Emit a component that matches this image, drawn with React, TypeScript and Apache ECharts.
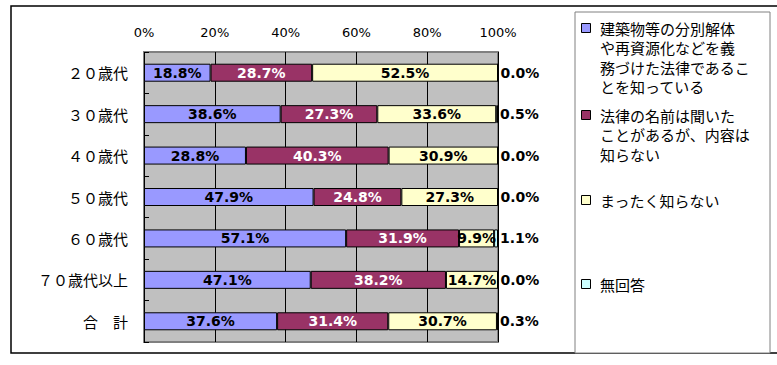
import React, { useEffect, useRef } from "react";
import * as echarts from "echarts";

const categories = ["２０歳代", "３０歳代", "４０歳代", "５０歳代", "６０歳代", "７０歳代以上", "合　計"];
const seriesNames = [
  "建築物等の分別解体や再資源化などを義務づけた法律であることを知っている",
  "法律の名前は聞いたことがあるが、内容は知らない",
  "まったく知らない",
  "無回答",
];
const legendLines = [
  "建築物等の分別解体\nや再資源化などを義\n務づけた法律であるこ\nとを知っている",
  "法律の名前は聞いた\nことがあるが、内容は\n知らない",
  "まったく知らない",
  "無回答",
];
const knowValues = [18.8, 38.6, 28.8, 47.9, 57.1, 47.1, 37.6];
const heardValues = [28.7, 27.3, 40.3, 24.8, 31.9, 38.2, 31.4];
const unknownValues = [52.5, 33.6, 30.9, 27.3, 9.9, 14.7, 30.7];
const noAnswerValues = [0.0, 0.5, 0.0, 0.0, 1.1, 0.0, 0.3];
const xTicks = [0, 20, 40, 60, 80, 100];

const colors = ["#9999FF", "#993366", "#FFFFCC", "#CCFFFF"];
const labelColors = ["#000", "#fff", "#000", "#000"];

export default function App() {
  const ref = useRef<HTMLDivElement>(null);
  useEffect(() => {
    document.body.style.margin = "0";
    const chart = echarts.init(ref.current!, null, { renderer: "svg" });
    const data = [knowValues, heardValues, unknownValues, noAnswerValues];
    const lh = 19.5;
    const centers = [28, 115, 200, 284];
    const legendGraphics: any[] = [];
    legendLines.forEach((txt, i) => {
      legendGraphics.push({
        type: "rect",
        shape: { x: 581.5, y: centers[i] - 4.5, width: 9, height: 9 },
        style: { fill: colors[i], stroke: "#000", lineWidth: 1 },
        z: 3,
      });
      legendGraphics.push({
        type: "text",
        x: 600,
        y: centers[i] - lh / 2,
        style: {
          text: txt,
          fontFamily: "Noto Sans CJK JP",
          fontSize: 15,
          lineHeight: lh,
          fill: "#000",
          verticalAlign: "top",
          align: "left",
        },
        z: 3,
      });
    });
    chart.setOption({
      animation: false,
      backgroundColor: "#fff",
      graphic: [
        { type: "rect", shape: { x: 11, y: 6, width: 800, height: 347 }, style: { fill: "none", stroke: "#000", lineWidth: 1.5 }, z: 0 },
        { type: "rect", shape: { x: 575, y: 12, width: 195, height: 341 }, style: { fill: "#fff", stroke: "#808080", lineWidth: 1 }, z: 1 },
        ...legendGraphics,
      ],
      grid: {
        left: 144,
        right: 279,
        top: 52,
        bottom: 23,
        show: true,
        backgroundColor: "#C0C0C0",
        borderColor: "#808080",
        borderWidth: 2,
      },
      xAxis: {
        type: "value",
        position: "top",
        min: 0,
        max: 100,
        interval: 20,
        axisLine: { show: false },
        axisTick: { show: false },
        splitLine: { show: true, lineStyle: { color: "#000", width: 1 } },
        axisLabel: {
          formatter: (v: number) => (xTicks.includes(v) ? v + "%" : ""),
          fontFamily: "DejaVu Sans",
          fontSize: 13,
          color: "#000",
          margin: 13,
        },
      },
      yAxis: {
        type: "category",
        data: categories,
        inverse: true,
        axisLine: { show: false },
        axisTick: { show: true, inside: true, length: 5, lineStyle: { color: "#000" } },
        axisLabel: {
          fontFamily: "Noto Sans CJK JP",
          fontSize: 15,
          color: "#000",
          margin: 16,
        },
      },
      series: data.map((vals, i) => ({
        name: seriesNames[i],
        type: "bar",
        stack: "total",
        data: vals,
        barWidth: 18,
        itemStyle: { color: colors[i], borderColor: "#000", borderWidth: 1 },
        label: {
          show: true,
          position: i === 3 ? "right" : "inside",
          distance: 2,
          formatter: (p: any) => p.value.toFixed(1) + "%",
          fontFamily: "DejaVu Sans",
          fontWeight: "bold",
          fontSize: 14,
          color: labelColors[i],
        },
      })),
    });
    return () => chart.dispose();
  }, []);
  return <div ref={ref} style={{ width: 777, height: 365 }} />;
}
